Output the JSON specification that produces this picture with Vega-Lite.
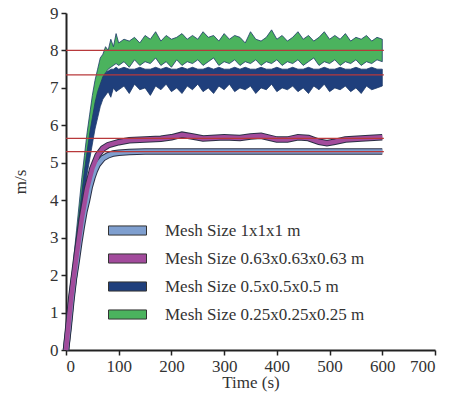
{
"$schema":"https://vega.github.io/schema/vega-lite/v6.json",
"width":369,"height":337,
"autosize":"none",
"padding":{"left":66,"top":13,"right":24,"bottom":46},
"background":"white",
"config":{"view":{"stroke":null},"font":"Liberation Serif"},
"datasets":{
"bands":[
{"s":"Mesh Size 0.25x0.25x0.25 m","t":0,"lo":0,"hi":0.1},{"s":"Mesh Size 0.25x0.25x0.25 m","t":5,"lo":0.6,"hi":0.9},{"s":"Mesh Size 0.25x0.25x0.25 m","t":10,"lo":1.3,"hi":1.7},{"s":"Mesh Size 0.25x0.25x0.25 m","t":15,"lo":2.0,"hi":2.5},{"s":"Mesh Size 0.25x0.25x0.25 m","t":20,"lo":2.7,"hi":3.2},{"s":"Mesh Size 0.25x0.25x0.25 m","t":25,"lo":3.4,"hi":3.9},{"s":"Mesh Size 0.25x0.25x0.25 m","t":30,"lo":4.0,"hi":4.6},{"s":"Mesh Size 0.25x0.25x0.25 m","t":35,"lo":4.6,"hi":5.2},{"s":"Mesh Size 0.25x0.25x0.25 m","t":40,"lo":5.1,"hi":5.8},{"s":"Mesh Size 0.25x0.25x0.25 m","t":45,"lo":5.6,"hi":6.3},{"s":"Mesh Size 0.25x0.25x0.25 m","t":50,"lo":6.0,"hi":6.8},{"s":"Mesh Size 0.25x0.25x0.25 m","t":55,"lo":6.4,"hi":7.2},{"s":"Mesh Size 0.25x0.25x0.25 m","t":60,"lo":6.7,"hi":7.5},{"s":"Mesh Size 0.25x0.25x0.25 m","t":65,"lo":7.0,"hi":7.8},{"s":"Mesh Size 0.25x0.25x0.25 m","t":70,"lo":7.2,"hi":7.9},{"s":"Mesh Size 0.25x0.25x0.25 m","t":75,"lo":7.4,"hi":8.1},{"s":"Mesh Size 0.25x0.25x0.25 m","t":80,"lo":7.5,"hi":8.0},{"s":"Mesh Size 0.25x0.25x0.25 m","t":85,"lo":7.55,"hi":8.3},{"s":"Mesh Size 0.25x0.25x0.25 m","t":90,"lo":7.6,"hi":8.1},{"s":"Mesh Size 0.25x0.25x0.25 m","t":95,"lo":7.65,"hi":8.45},{"s":"Mesh Size 0.25x0.25x0.25 m","t":100,"lo":7.6,"hi":8.2},{"s":"Mesh Size 0.25x0.25x0.25 m","t":110,"lo":7.7,"hi":8.3},{"s":"Mesh Size 0.25x0.25x0.25 m","t":120,"lo":7.55,"hi":8.25},{"s":"Mesh Size 0.25x0.25x0.25 m","t":130,"lo":7.75,"hi":8.35},{"s":"Mesh Size 0.25x0.25x0.25 m","t":140,"lo":7.6,"hi":8.2},{"s":"Mesh Size 0.25x0.25x0.25 m","t":150,"lo":7.7,"hi":8.4},{"s":"Mesh Size 0.25x0.25x0.25 m","t":160,"lo":7.65,"hi":8.3},{"s":"Mesh Size 0.25x0.25x0.25 m","t":170,"lo":7.8,"hi":8.5},{"s":"Mesh Size 0.25x0.25x0.25 m","t":180,"lo":7.6,"hi":8.25},{"s":"Mesh Size 0.25x0.25x0.25 m","t":190,"lo":7.7,"hi":8.4},{"s":"Mesh Size 0.25x0.25x0.25 m","t":200,"lo":7.55,"hi":8.3},{"s":"Mesh Size 0.25x0.25x0.25 m","t":210,"lo":7.75,"hi":8.35},{"s":"Mesh Size 0.25x0.25x0.25 m","t":220,"lo":7.6,"hi":8.45},{"s":"Mesh Size 0.25x0.25x0.25 m","t":230,"lo":7.7,"hi":8.3},{"s":"Mesh Size 0.25x0.25x0.25 m","t":240,"lo":7.65,"hi":8.4},{"s":"Mesh Size 0.25x0.25x0.25 m","t":250,"lo":7.75,"hi":8.3},{"s":"Mesh Size 0.25x0.25x0.25 m","t":260,"lo":7.6,"hi":8.5},{"s":"Mesh Size 0.25x0.25x0.25 m","t":270,"lo":7.7,"hi":8.35},{"s":"Mesh Size 0.25x0.25x0.25 m","t":280,"lo":7.8,"hi":8.4},{"s":"Mesh Size 0.25x0.25x0.25 m","t":290,"lo":7.6,"hi":8.25},{"s":"Mesh Size 0.25x0.25x0.25 m","t":300,"lo":7.7,"hi":8.45},{"s":"Mesh Size 0.25x0.25x0.25 m","t":310,"lo":7.65,"hi":8.3},{"s":"Mesh Size 0.25x0.25x0.25 m","t":320,"lo":7.75,"hi":8.4},{"s":"Mesh Size 0.25x0.25x0.25 m","t":330,"lo":7.6,"hi":8.35},{"s":"Mesh Size 0.25x0.25x0.25 m","t":340,"lo":7.7,"hi":8.2},{"s":"Mesh Size 0.25x0.25x0.25 m","t":350,"lo":7.65,"hi":8.5},{"s":"Mesh Size 0.25x0.25x0.25 m","t":360,"lo":7.75,"hi":8.3},{"s":"Mesh Size 0.25x0.25x0.25 m","t":370,"lo":7.6,"hi":8.25},{"s":"Mesh Size 0.25x0.25x0.25 m","t":380,"lo":7.7,"hi":8.35},{"s":"Mesh Size 0.25x0.25x0.25 m","t":390,"lo":7.65,"hi":8.55},{"s":"Mesh Size 0.25x0.25x0.25 m","t":400,"lo":7.75,"hi":8.3},{"s":"Mesh Size 0.25x0.25x0.25 m","t":410,"lo":7.6,"hi":8.4},{"s":"Mesh Size 0.25x0.25x0.25 m","t":420,"lo":7.7,"hi":8.25},{"s":"Mesh Size 0.25x0.25x0.25 m","t":430,"lo":7.65,"hi":8.35},{"s":"Mesh Size 0.25x0.25x0.25 m","t":440,"lo":7.75,"hi":8.5},{"s":"Mesh Size 0.25x0.25x0.25 m","t":450,"lo":7.6,"hi":8.3},{"s":"Mesh Size 0.25x0.25x0.25 m","t":460,"lo":7.7,"hi":8.4},{"s":"Mesh Size 0.25x0.25x0.25 m","t":470,"lo":7.8,"hi":8.25},{"s":"Mesh Size 0.25x0.25x0.25 m","t":480,"lo":7.6,"hi":8.35},{"s":"Mesh Size 0.25x0.25x0.25 m","t":490,"lo":7.7,"hi":8.5},{"s":"Mesh Size 0.25x0.25x0.25 m","t":500,"lo":7.65,"hi":8.3},{"s":"Mesh Size 0.25x0.25x0.25 m","t":510,"lo":7.75,"hi":8.4},{"s":"Mesh Size 0.25x0.25x0.25 m","t":520,"lo":7.6,"hi":8.3},{"s":"Mesh Size 0.25x0.25x0.25 m","t":530,"lo":7.7,"hi":8.45},{"s":"Mesh Size 0.25x0.25x0.25 m","t":540,"lo":7.65,"hi":8.25},{"s":"Mesh Size 0.25x0.25x0.25 m","t":550,"lo":7.75,"hi":8.35},{"s":"Mesh Size 0.25x0.25x0.25 m","t":560,"lo":7.6,"hi":8.3},{"s":"Mesh Size 0.25x0.25x0.25 m","t":570,"lo":7.7,"hi":8.4},{"s":"Mesh Size 0.25x0.25x0.25 m","t":580,"lo":7.65,"hi":8.25},{"s":"Mesh Size 0.25x0.25x0.25 m","t":590,"lo":7.75,"hi":8.35},{"s":"Mesh Size 0.25x0.25x0.25 m","t":600,"lo":7.7,"hi":8.3},
{"s":"Mesh Size 0.5x0.5x0.5 m","t":0,"lo":0,"hi":0.1},{"s":"Mesh Size 0.5x0.5x0.5 m","t":5,"lo":0.5,"hi":0.8},{"s":"Mesh Size 0.5x0.5x0.5 m","t":10,"lo":1.2,"hi":1.6},{"s":"Mesh Size 0.5x0.5x0.5 m","t":15,"lo":1.9,"hi":2.3},{"s":"Mesh Size 0.5x0.5x0.5 m","t":20,"lo":2.5,"hi":3.0},{"s":"Mesh Size 0.5x0.5x0.5 m","t":25,"lo":3.1,"hi":3.6},{"s":"Mesh Size 0.5x0.5x0.5 m","t":30,"lo":3.7,"hi":4.2},{"s":"Mesh Size 0.5x0.5x0.5 m","t":35,"lo":4.2,"hi":4.8},{"s":"Mesh Size 0.5x0.5x0.5 m","t":40,"lo":4.7,"hi":5.3},{"s":"Mesh Size 0.5x0.5x0.5 m","t":45,"lo":5.1,"hi":5.8},{"s":"Mesh Size 0.5x0.5x0.5 m","t":50,"lo":5.5,"hi":6.2},{"s":"Mesh Size 0.5x0.5x0.5 m","t":55,"lo":5.9,"hi":6.6},{"s":"Mesh Size 0.5x0.5x0.5 m","t":60,"lo":6.2,"hi":6.9},{"s":"Mesh Size 0.5x0.5x0.5 m","t":65,"lo":6.5,"hi":7.1},{"s":"Mesh Size 0.5x0.5x0.5 m","t":70,"lo":6.7,"hi":7.3},{"s":"Mesh Size 0.5x0.5x0.5 m","t":75,"lo":6.8,"hi":7.4},{"s":"Mesh Size 0.5x0.5x0.5 m","t":80,"lo":6.9,"hi":7.45},{"s":"Mesh Size 0.5x0.5x0.5 m","t":85,"lo":6.75,"hi":7.5},{"s":"Mesh Size 0.5x0.5x0.5 m","t":90,"lo":7.0,"hi":7.5},{"s":"Mesh Size 0.5x0.5x0.5 m","t":95,"lo":6.9,"hi":7.55},{"s":"Mesh Size 0.5x0.5x0.5 m","t":100,"lo":6.95,"hi":7.5},{"s":"Mesh Size 0.5x0.5x0.5 m","t":110,"lo":7.05,"hi":7.55},{"s":"Mesh Size 0.5x0.5x0.5 m","t":120,"lo":6.85,"hi":7.5},{"s":"Mesh Size 0.5x0.5x0.5 m","t":130,"lo":7.1,"hi":7.5},{"s":"Mesh Size 0.5x0.5x0.5 m","t":140,"lo":6.95,"hi":7.55},{"s":"Mesh Size 0.5x0.5x0.5 m","t":150,"lo":7.0,"hi":7.5},{"s":"Mesh Size 0.5x0.5x0.5 m","t":160,"lo":6.8,"hi":7.5},{"s":"Mesh Size 0.5x0.5x0.5 m","t":170,"lo":7.05,"hi":7.55},{"s":"Mesh Size 0.5x0.5x0.5 m","t":180,"lo":6.95,"hi":7.5},{"s":"Mesh Size 0.5x0.5x0.5 m","t":190,"lo":7.1,"hi":7.55},{"s":"Mesh Size 0.5x0.5x0.5 m","t":200,"lo":6.9,"hi":7.5},{"s":"Mesh Size 0.5x0.5x0.5 m","t":210,"lo":7.0,"hi":7.5},{"s":"Mesh Size 0.5x0.5x0.5 m","t":220,"lo":6.85,"hi":7.55},{"s":"Mesh Size 0.5x0.5x0.5 m","t":230,"lo":7.05,"hi":7.5},{"s":"Mesh Size 0.5x0.5x0.5 m","t":240,"lo":6.95,"hi":7.55},{"s":"Mesh Size 0.5x0.5x0.5 m","t":250,"lo":7.1,"hi":7.5},{"s":"Mesh Size 0.5x0.5x0.5 m","t":260,"lo":6.9,"hi":7.5},{"s":"Mesh Size 0.5x0.5x0.5 m","t":270,"lo":7.0,"hi":7.55},{"s":"Mesh Size 0.5x0.5x0.5 m","t":280,"lo":6.85,"hi":7.5},{"s":"Mesh Size 0.5x0.5x0.5 m","t":290,"lo":7.05,"hi":7.55},{"s":"Mesh Size 0.5x0.5x0.5 m","t":300,"lo":6.95,"hi":7.5},{"s":"Mesh Size 0.5x0.5x0.5 m","t":310,"lo":7.1,"hi":7.5},{"s":"Mesh Size 0.5x0.5x0.5 m","t":320,"lo":6.9,"hi":7.55},{"s":"Mesh Size 0.5x0.5x0.5 m","t":330,"lo":7.0,"hi":7.5},{"s":"Mesh Size 0.5x0.5x0.5 m","t":340,"lo":6.95,"hi":7.55},{"s":"Mesh Size 0.5x0.5x0.5 m","t":350,"lo":7.05,"hi":7.5},{"s":"Mesh Size 0.5x0.5x0.5 m","t":360,"lo":6.85,"hi":7.5},{"s":"Mesh Size 0.5x0.5x0.5 m","t":370,"lo":7.0,"hi":7.55},{"s":"Mesh Size 0.5x0.5x0.5 m","t":380,"lo":6.95,"hi":7.5},{"s":"Mesh Size 0.5x0.5x0.5 m","t":390,"lo":7.1,"hi":7.5},{"s":"Mesh Size 0.5x0.5x0.5 m","t":400,"lo":6.9,"hi":7.55},{"s":"Mesh Size 0.5x0.5x0.5 m","t":410,"lo":7.0,"hi":7.5},{"s":"Mesh Size 0.5x0.5x0.5 m","t":420,"lo":6.95,"hi":7.5},{"s":"Mesh Size 0.5x0.5x0.5 m","t":430,"lo":7.05,"hi":7.55},{"s":"Mesh Size 0.5x0.5x0.5 m","t":440,"lo":6.9,"hi":7.5},{"s":"Mesh Size 0.5x0.5x0.5 m","t":450,"lo":7.0,"hi":7.5},{"s":"Mesh Size 0.5x0.5x0.5 m","t":460,"lo":6.85,"hi":7.55},{"s":"Mesh Size 0.5x0.5x0.5 m","t":470,"lo":7.05,"hi":7.5},{"s":"Mesh Size 0.5x0.5x0.5 m","t":480,"lo":6.95,"hi":7.5},{"s":"Mesh Size 0.5x0.5x0.5 m","t":490,"lo":7.1,"hi":7.55},{"s":"Mesh Size 0.5x0.5x0.5 m","t":500,"lo":6.9,"hi":7.5},{"s":"Mesh Size 0.5x0.5x0.5 m","t":510,"lo":7.0,"hi":7.5},{"s":"Mesh Size 0.5x0.5x0.5 m","t":520,"lo":6.95,"hi":7.55},{"s":"Mesh Size 0.5x0.5x0.5 m","t":530,"lo":7.05,"hi":7.5},{"s":"Mesh Size 0.5x0.5x0.5 m","t":540,"lo":6.9,"hi":7.5},{"s":"Mesh Size 0.5x0.5x0.5 m","t":550,"lo":7.0,"hi":7.55},{"s":"Mesh Size 0.5x0.5x0.5 m","t":560,"lo":6.85,"hi":7.5},{"s":"Mesh Size 0.5x0.5x0.5 m","t":570,"lo":7.05,"hi":7.5},{"s":"Mesh Size 0.5x0.5x0.5 m","t":580,"lo":6.95,"hi":7.55},{"s":"Mesh Size 0.5x0.5x0.5 m","t":590,"lo":7.0,"hi":7.5},{"s":"Mesh Size 0.5x0.5x0.5 m","t":600,"lo":7.05,"hi":7.5}
],
"lines":[
{"s":"Mesh Size 1x1x1 m","t":0,"lo":0},{"s":"Mesh Size 1x1x1 m","t":5,"lo":0.6},{"s":"Mesh Size 1x1x1 m","t":10,"lo":1.3},{"s":"Mesh Size 1x1x1 m","t":15,"lo":1.9},{"s":"Mesh Size 1x1x1 m","t":20,"lo":2.35},{"s":"Mesh Size 1x1x1 m","t":25,"lo":2.85},{"s":"Mesh Size 1x1x1 m","t":30,"lo":3.3},{"s":"Mesh Size 1x1x1 m","t":35,"lo":3.7},{"s":"Mesh Size 1x1x1 m","t":40,"lo":4.0},{"s":"Mesh Size 1x1x1 m","t":45,"lo":4.35},{"s":"Mesh Size 1x1x1 m","t":50,"lo":4.6},{"s":"Mesh Size 1x1x1 m","t":55,"lo":4.8},{"s":"Mesh Size 1x1x1 m","t":60,"lo":4.95},{"s":"Mesh Size 1x1x1 m","t":70,"lo":5.12},{"s":"Mesh Size 1x1x1 m","t":80,"lo":5.2},{"s":"Mesh Size 1x1x1 m","t":90,"lo":5.25},{"s":"Mesh Size 1x1x1 m","t":100,"lo":5.27},{"s":"Mesh Size 1x1x1 m","t":120,"lo":5.29},{"s":"Mesh Size 1x1x1 m","t":150,"lo":5.3},{"s":"Mesh Size 1x1x1 m","t":300,"lo":5.3},{"s":"Mesh Size 1x1x1 m","t":600,"lo":5.3},
{"s":"Mesh Size 0.63x0.63x0.63 m","t":0,"lo":0},{"s":"Mesh Size 0.63x0.63x0.63 m","t":10,"lo":1.4},{"s":"Mesh Size 0.63x0.63x0.63 m","t":20,"lo":2.5},{"s":"Mesh Size 0.63x0.63x0.63 m","t":30,"lo":3.5},{"s":"Mesh Size 0.63x0.63x0.63 m","t":40,"lo":4.3},{"s":"Mesh Size 0.63x0.63x0.63 m","t":50,"lo":4.85},{"s":"Mesh Size 0.63x0.63x0.63 m","t":60,"lo":5.2},{"s":"Mesh Size 0.63x0.63x0.63 m","t":70,"lo":5.38},{"s":"Mesh Size 0.63x0.63x0.63 m","t":80,"lo":5.47},{"s":"Mesh Size 0.63x0.63x0.63 m","t":100,"lo":5.55},{"s":"Mesh Size 0.63x0.63x0.63 m","t":120,"lo":5.6},{"s":"Mesh Size 0.63x0.63x0.63 m","t":150,"lo":5.62},{"s":"Mesh Size 0.63x0.63x0.63 m","t":180,"lo":5.64},{"s":"Mesh Size 0.63x0.63x0.63 m","t":200,"lo":5.68},{"s":"Mesh Size 0.63x0.63x0.63 m","t":220,"lo":5.75},{"s":"Mesh Size 0.63x0.63x0.63 m","t":240,"lo":5.7},{"s":"Mesh Size 0.63x0.63x0.63 m","t":260,"lo":5.65},{"s":"Mesh Size 0.63x0.63x0.63 m","t":300,"lo":5.68},{"s":"Mesh Size 0.63x0.63x0.63 m","t":330,"lo":5.66},{"s":"Mesh Size 0.63x0.63x0.63 m","t":350,"lo":5.7},{"s":"Mesh Size 0.63x0.63x0.63 m","t":370,"lo":5.72},{"s":"Mesh Size 0.63x0.63x0.63 m","t":400,"lo":5.62},{"s":"Mesh Size 0.63x0.63x0.63 m","t":420,"lo":5.62},{"s":"Mesh Size 0.63x0.63x0.63 m","t":440,"lo":5.68},{"s":"Mesh Size 0.63x0.63x0.63 m","t":460,"lo":5.66},{"s":"Mesh Size 0.63x0.63x0.63 m","t":480,"lo":5.56},{"s":"Mesh Size 0.63x0.63x0.63 m","t":495,"lo":5.52},{"s":"Mesh Size 0.63x0.63x0.63 m","t":510,"lo":5.56},{"s":"Mesh Size 0.63x0.63x0.63 m","t":530,"lo":5.62},{"s":"Mesh Size 0.63x0.63x0.63 m","t":560,"lo":5.65},{"s":"Mesh Size 0.63x0.63x0.63 m","t":600,"lo":5.68}
],
"refs":[{"lo":8.0,"t":0,"t2":603},{"lo":7.35,"t":0,"t2":603},{"lo":5.65,"t":0,"t2":603},{"lo":5.3,"t":0,"t2":603}]
},
"encoding":{
  "x":{"field":"t","type":"quantitative","scale":{"domain":[0,700],"nice":false},
   "axis":{"values":[0,100,200,300,400,500,600,700],"tickCount":8,"labelOverlap":false,"grid":false,"title":"Time (s)","titleFont":"Liberation Serif","titleFontSize":17,"titleFontWeight":"normal","titleColor":"#333","titlePadding":0,"labelFont":"Liberation Serif","labelFontSize":17,"labelColor":"#333","labelPadding":3,"domainColor":"#222","domainWidth":2,"tickColor":"#222","tickWidth":1.5,"tickSize":5}},
  "y":{"field":"lo","type":"quantitative","scale":{"domain":[0,9],"nice":false},
   "axis":{"values":[0,1,2,3,4,5,6,7,8,9],"tickCount":10,"labelOverlap":false,"grid":false,"title":"m/s","titleFont":"Liberation Serif","titleFontSize":17,"titleFontWeight":"normal","titleColor":"#333","titlePadding":20,"labelFont":"Liberation Serif","labelFontSize":17,"labelColor":"#333","labelPadding":3,"domainColor":"#222","domainWidth":2,"tickColor":"#222","tickWidth":1.5,"tickSize":5}}
},
"layer":[
{"data":{"name":"bands"},
 "mark":{"type":"area","stroke":"#1d3a6a","strokeWidth":0.8,"opacity":1},
 "encoding":{
  "y2":{"field":"hi"},
  "color":{"field":"s","type":"nominal",
   "scale":{"domain":["Mesh Size 1x1x1 m","Mesh Size 0.63x0.63x0.63 m","Mesh Size 0.5x0.5x0.5 m","Mesh Size 0.25x0.25x0.25 m"],"range":["#7f9fcf","#a24b9c","#1f3f7c","#4bb35e"]},
   "legend":{"orient":"none","legendX":42,"legendY":198,"title":null,"symbolType":"M-1,-0.24H1V0.24H-1Z","symbolSize":1444,"symbolStrokeColor":"#333","symbolStrokeWidth":1,"symbolOpacity":1,"labelFont":"Liberation Serif","labelFontSize":17,"labelColor":"#333","labelOffset":18,"rowPadding":-2,"labelLimit":400}}
 }},
{"data":{"name":"lines"},
 "mark":{"type":"line","color":"#2a2f45","strokeWidth":6.5},
 "encoding":{"detail":{"field":"s"}}},
{"data":{"name":"lines"},
 "mark":{"type":"line","strokeWidth":4.5},
 "encoding":{
  "stroke":{"field":"s","type":"nominal","legend":null,
   "scale":{"domain":["Mesh Size 1x1x1 m","Mesh Size 0.63x0.63x0.63 m"],"range":["#7f9fcf","#a24b9c"]}}}},
{"data":{"name":"refs"},
 "mark":{"type":"rule","color":"#b8393b","strokeWidth":1.3},
 "encoding":{"x2":{"field":"t2"}}}
]
}
